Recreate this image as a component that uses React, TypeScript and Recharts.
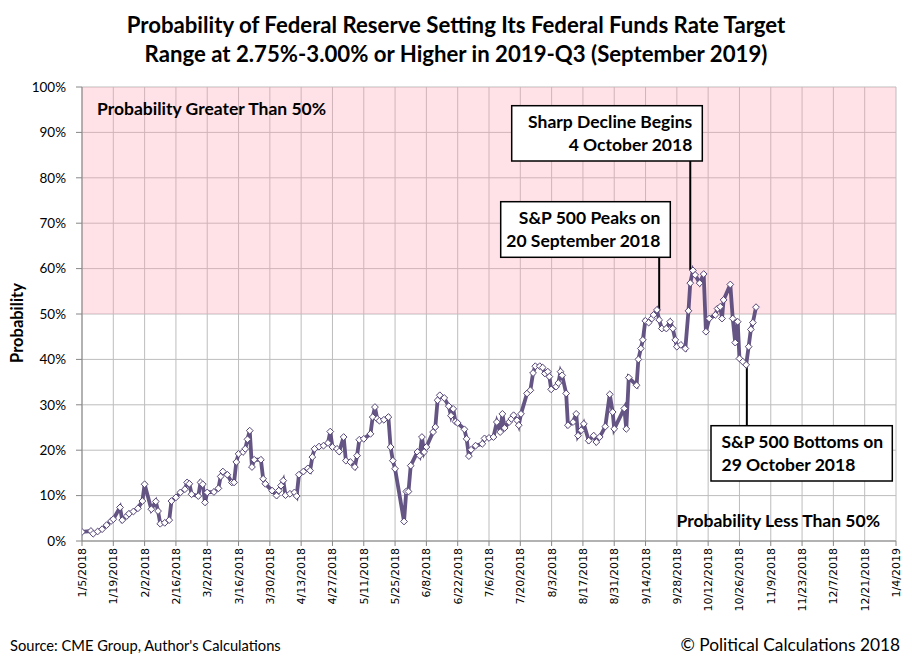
import React from 'react';
import { LineChart, Line, XAxis, YAxis, CartesianGrid, ReferenceArea, ReferenceLine } from 'recharts';

// days since Friday 5 Jan 2018
const dayOffset = [
  0, 4, 5, 7, 9, 11, 13, 14, 17, 18, 20, 21, 23, 25, 27, 28, 31, 33, 34, 35, 37, 39, 40, 42, 44, 46, 47, 48, 49,
  52, 53, 54, 55, 56, 59, 61, 62, 63, 65, 67, 68, 69, 70, 72, 73, 74, 75, 76, 77, 80, 81, 82, 85, 87, 88, 89, 90,
  91, 93, 95, 96, 97, 99, 101, 102, 103, 104, 106, 108, 110, 111, 112, 114, 115, 117, 118, 120, 122, 123, 124,
  126, 129, 130, 131, 132, 133, 135, 137, 138, 139, 140, 144, 145, 146, 147, 150, 151, 152, 153, 154, 157, 158,
  159, 160, 162, 164, 165, 166, 167, 168, 171, 172, 173, 174, 176, 179, 180, 182, 184, 185.5, 187, 188, 189, 191,
  192, 193, 194.5, 195.3, 196.3, 199, 200.5, 201.7, 202.7, 204.7, 206, 207, 208.3, 209, 209.8, 212, 213, 214,
  214.7, 216.5, 217.3, 219.6, 221, 221.8, 223.2, 224.4, 226.6, 228.8, 230, 231.5, 234, 236, 237.3, 238, 242.5,
  243.4, 244.5, 248, 248.8, 249.9, 250.8, 251.9, 253.4, 254.8, 255.6, 257.1, 258.1, 259.3, 261.3, 263, 264.2,
  265.3, 266, 267.8, 269.8, 271.2, 272, 273.2, 274.2, 276.2, 278, 279, 280.5, 283.2, 284.2, 285.4, 286.2, 286.9,
  289.9, 291, 292.1, 293.2, 294, 295.5, 297, 298.1, 299.1, 300, 301.4,
];

// probability (%) of target range 2.75%-3.00% or higher in 2019-Q3
const probability = [
  2.0, 2.2, 1.6, 2.1, 2.6, 3.5, 4.4, 4.8, 7.4, 4.6, 5.5, 6.0, 6.5, 7.2, 8.8, 12.5, 7.0, 8.7, 6.6, 3.8, 4.0, 4.6, 8.8,
  9.6, 10.7, 11.4, 12.9, 12.6, 10.3, 9.9, 12.9, 12.5, 8.5, 10.7, 10.8, 11.6, 14.2, 15.3, 14.6, 12.9, 12.9, 17.4,
  19.2, 19.6, 20.3, 22.4, 24.3, 16.3, 17.9, 17.9, 13.7, 12.6, 11.1, 10.0, 11.1, 12.2, 13.3, 10.1, 10.4, 10.7, 9.9,
  14.6, 15.3, 16.0, 15.5, 18.5, 20.3, 20.8, 21.0, 21.6, 24.1, 20.7, 20.3, 19.7, 22.9, 17.7, 17.4, 16.3, 18.8, 22.3,
  22.5, 23.6, 27.3, 29.5, 26.9, 26.5, 26.7, 27.3, 20.7, 17.7, 15.9, 4.3, 10.9, 10.9, 16.6, 19.6, 18.8, 22.9, 19.6,
  20.7, 24.0, 25.1, 31.0, 32.1, 31.5, 29.7, 27.6, 29.1, 26.3, 26.0, 24.6, 22.5, 18.7, 20.1, 21.0, 21.4, 22.6, 22.7,
  22.9, 26.2, 24.0, 28.0, 24.9, 26.2, 26.9, 27.7, 26.6, 25.5, 28.0, 32.5, 33.2, 37.0, 38.5, 38.5, 38.2, 36.9, 37.3,
  36.2, 33.4, 34.0, 34.8, 37.3, 36.5, 32.5, 25.5, 26.2, 28.0, 23.2, 24.4, 25.8, 22.1, 23.2, 21.8, 22.9, 25.2, 32.3,
  28.4, 24.7, 29.2, 24.7, 36.0, 34.3, 40.0, 42.4, 44.3, 48.5, 48.1, 49.0, 49.8, 50.9, 48.7, 46.8, 46.8, 48.3, 46.8,
  44.3, 42.8, 43.2, 42.4, 50.7, 56.8, 59.6, 58.6, 56.8, 58.8, 46.1, 49.0, 49.8, 51.2, 51.6, 49.0, 53.1, 56.5, 49.0,
  43.7, 48.3, 40.2, 39.5, 38.8, 42.8, 46.6, 48.1, 51.5,
];

const tickLabels = [
  '1/5/2018', '1/19/2018', '2/2/2018', '2/16/2018', '3/2/2018', '3/16/2018', '3/30/2018', '4/13/2018',
  '4/27/2018', '5/11/2018', '5/25/2018', '6/8/2018', '6/22/2018', '7/6/2018', '7/20/2018', '8/3/2018',
  '8/17/2018', '8/31/2018', '9/14/2018', '9/28/2018', '10/12/2018', '10/26/2018', '11/9/2018', '11/23/2018',
  '12/7/2018', '12/21/2018', '1/4/2019',
];
const tickDays = tickLabels.map((_, i) => i * 14);
const yTicks = [0, 10, 20, 30, 40, 50, 60, 70, 80, 90, 100];

// leader lines for the callouts: [day, from %, to %]
const callouts = [
  { day: 272, from: 59.7, to: 83.7 },
  { day: 258.1, from: 50.6, to: 62.5 },
  { day: 297.3, from: 38.8, to: 25.4 },
];

const data = dayOffset.map((d, i) => ({ d, p: probability[i] }));

const FONT = 'Lato, "Open Sans", sans-serif';
const LINE = '#574779';
const GRID = '#bdbdbd';
const AXIS = '#868686';

const DateTick = (props: any) => {
  const { x, y, payload } = props;
  const label = tickLabels[Math.round(payload.value / 14)] ?? '';
  return (
    <text transform={`translate(${x},${y}) rotate(-90)`} textAnchor="end" dy="0.36em"
      fontFamily='"DejaVu Sans", sans-serif' fontSize={11} fill="#000">{label}</text>
  );
};

const Diamond = (props: any) => {
  const { cx, cy } = props;
  if (cx == null || cy == null) return null;
  const r = 3.4;
  return <path d={`M${cx},${cy - r}L${cx + r},${cy}L${cx},${cy + r}L${cx - r},${cy}Z`} fill="#fff" stroke={LINE} strokeWidth={1} />;
};

const Box = ({ x, y, w, h, lines, anchor }:{ x: number; y: number; w: number; h: number; lines: string[]; anchor: 'start' | 'end' }) => {
  const tx = anchor === 'end' ? x + w - 10 : x + 10.5;
  return (
    <g>
      <rect x={x} y={y} width={w} height={h} fill="#fff" stroke="#000" strokeWidth={1.5} />
      {lines.map((t, i) => (
        <text key={i} x={tx} y={y + 22 + i * 23} textAnchor={anchor} fontFamily={FONT} fontWeight={700} fontSize={17.5} fill="#000">{t}</text>
      ))}
    </g>
  );
};

export default function App() {
  return (
    <div style={{ position: 'absolute', left: 0, top: 0, width: 912, height: 661, background: '#fff' }}>
      <LineChart width={912} height={661} data={data} margin={{ top: 87, right: 16, bottom: 0, left: 0 }}>
        <CartesianGrid stroke={GRID} strokeWidth={1} />
        <ReferenceArea y1={50} y2={100} fill="#ff9fb0" fillOpacity={0.3} stroke="none" ifOverflow="visible" />
        <XAxis type="number" dataKey="d" domain={[0, 364]} ticks={tickDays} interval={0} height={120}
          tick={<DateTick />} tickSize={5} tickMargin={2} stroke={AXIS} allowDataOverflow />
        <YAxis domain={[0, 100]} ticks={yTicks} width={82} tickSize={6} tickMargin={10} stroke={AXIS}
          tickFormatter={(v) => `${v}%`} tick={{ fontFamily: FONT, fontSize: 13.5, fill: '#000' }} />
        {callouts.map((c, i) => (
          <ReferenceLine key={i} segment={[{ x: c.day, y: c.from }, { x: c.day, y: c.to }]} stroke="#000" strokeWidth={2} ifOverflow="visible" />
        ))}
        <Line type="linear" dataKey="p" stroke={LINE} strokeOpacity={0.92} strokeWidth={3.8} dot={<Diamond />}
          activeDot={false} isAnimationActive={false} />
      </LineChart>
      <svg width={912} height={661} style={{ position: 'absolute', left: 0, top: 0, pointerEvents: 'none' }}>
        <g fontFamily={FONT} fontWeight={700} fill="#000">
          <text x={456} y={33} textAnchor="middle" fontSize={22.2}>Probability of Federal Reserve Setting Its Federal Funds Rate Target</text>
          <text x={456} y={62} textAnchor="middle" fontSize={22.2}>Range at 2.75%-3.00% or Higher in 2019-Q3 (September 2019)</text>
          <text transform="translate(23,323) rotate(-90)" textAnchor="middle" fontSize={16.5}>Probability</text>
          <text x={97} y={115} fontSize={17.5}>Probability Greater Than 50%</text>
          <text x={880} y={527} textAnchor="end" fontSize={17.5}>Probability Less Than 50%</text>
        </g>
        <Box x={511.7} y={105.7} w={190.6} h={55.3} anchor="end" lines={['Sharp Decline Begins', '4 October 2018']} />
        <Box x={500.7} y={201.7} w={169.6} h={55.6} anchor="end" lines={['S&P 500 Peaks on', '20 September 2018']} />
        <Box x={711} y={425.7} w={181.3} h={55.3} anchor="start" lines={['S&P 500 Bottoms on', '29 October 2018']} />
        <text x={10} y={651} fontFamily={FONT} fontSize={14.7} fill="#000">Source: CME Group, Author's Calculations</text>
        <text x={900} y={651} textAnchor="end" fontFamily={FONT} fontSize={17.3} fill="#000">© Political Calculations 2018</text>
      </svg>
    </div>
  );
}
